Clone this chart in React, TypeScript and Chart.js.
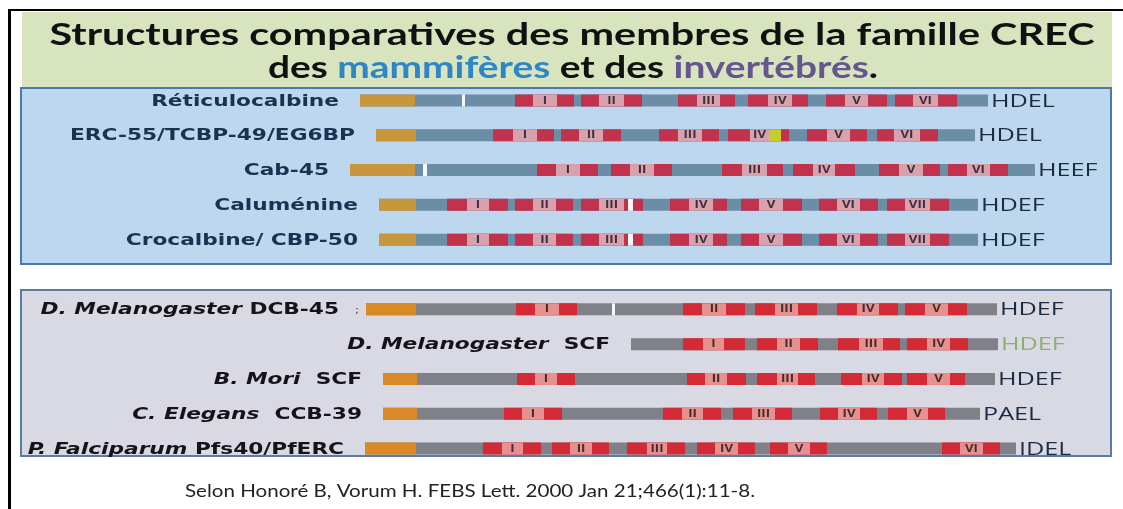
import React, { useEffect, useRef } from "react";
import { Chart, registerables } from "chart.js";

Chart.register(...registerables);

// ---------- DATA ----------
const speciesNames = ["", "", "", "", "", "", "D. Melanogaster", "D. Melanogaster", "B. Mori", "C. Elegans", "P. Falciparum"];
const proteinNames = ["Réticulocalbine", "ERC-55/TCBP-49/EG6BP", "Cab-45", "Caluménine", "Crocalbine/ CBP-50", "", "DCB-45", "SCF", "SCF", "CCB-39", "Pfs40/PfERC"];
const panelOfRow = [0, 0, 0, 0, 0, -1, 1, 1, 1, 1, 1];

// positions along the protein axis
const chainStart = [360, 376, 350, 379, 379, null, 366, 631, 383, 383, 365];
const signalEnd = [415, 416, 415, 416, 416, null, 416, null, 417, 417, 416];
const chainEnd = [988, 975, 1035, 978, 978, null, 997, 998, 995, 980, 1016];
const cTermMotif = ["HDEL", "HDEL", "HEEF", "HDEF", "HDEF", "", "HDEF", "HDEF", "HDEF", "PAEL", "IDEL"];

// EF-hands: [red start, pink start, pink end, red end]
const efHands: number[][][] = [
  [[515, 533, 557, 574], [581, 599, 624, 642], [678, 697, 720, 735], [748, 768, 792, 808], [826, 845, 868, 887], [895, 913, 938, 957]],
  [[493, 513, 537, 554], [561, 579, 603, 621], [659, 678, 702, 719], [728, 750, 769, 789], [807, 827, 850, 867], [877, 894, 920, 938]],
  [[537, 556, 580, 598], [611, 630, 654, 672], [722, 742, 767, 783], [793, 813, 835, 855], [879, 899, 923, 940], [948, 967, 990, 1008]],
  [[447, 467, 489, 508], [515, 533, 556, 573], [581, 599, 624, 643], [670, 689, 713, 727], [741, 759, 783, 802], [819, 837, 860, 878], [887, 905, 930, 949]],
  [[447, 467, 489, 508], [515, 533, 556, 573], [581, 599, 624, 643], [670, 689, 713, 727], [741, 759, 783, 802], [819, 837, 860, 878], [887, 905, 930, 949]],
  [],
  [[516, 535, 559, 577], [683, 702, 726, 745], [755, 775, 798, 817], [837, 857, 879, 898], [905, 925, 948, 967]],
  [[683, 703, 724, 745], [757, 777, 800, 818], [838, 859, 883, 900], [907, 927, 950, 968]],
  [[517, 535, 557, 575], [687, 705, 727, 746], [757, 777, 798, 815], [841, 862, 884, 902], [907, 927, 950, 965]],
  [[504, 522, 544, 562], [663, 682, 703, 721], [733, 752, 775, 792], [820, 838, 860, 877], [888, 907, 928, 945]],
  [[483, 502, 523, 541], [552, 570, 592, 609], [627, 647, 667, 685], [697, 715, 738, 755], [770, 788, 810, 827], [942, 960, 983, 1000]],
];
const romanNumerals = ["I", "II", "III", "IV", "V", "VI", "VII"];

// white breaks in the chain: row, start, end
const breakRows = [0, 2, 3, 4, 6];
const breakStarts = [462, 423, 628, 628, 612];
const breakEnds = [465, 427, 633, 633, 615];

// variant site (yellow) in ERC-55 EF-hand IV
const variantRows = [1];
const variantStarts = [769];
const variantEnds = [781];

const titleLine1 = "Structures comparatives des membres de la famille CREC";
const titleLine2 = [
  { text: "des ", color: "#111111" },
  { text: "mammifères", color: "#2e86c8" },
  { text: " et des ", color: "#111111" },
  { text: "invertébrés", color: "#66568f" },
  { text: ".", color: "#111111" },
];
const citation = "Selon Honoré B, Vorum H. FEBS Lett. 2000 Jan 21;466(1):11-8.";

const categories = proteinNames.map((p, i) => (speciesNames[i] ? speciesNames[i] + " " + p : p) || " ");

// ---------- STYLES ----------
const linkerColors = ["#6c8da6", "#808088"];
const signalColors = ["#c8973c", "#d98a26"];
const redColors = ["#c1324d", "#d42a35"];
const pinkColors = ["#d7a1ae", "#e69090"];
const numeralColors = ["#3e2f3e", "#452c2c"];

function drawText(ctx: CanvasRenderingContext2D, text: string, x: number, y: number, font: string, color: string, align: string, sx: number) {
  ctx.save();
  ctx.font = font;
  ctx.fillStyle = color;
  ctx.textBaseline = "middle";
  ctx.textAlign = "left";
  const w = ctx.measureText(text).width * sx;
  const left = align === "left" ? x : align === "right" ? x - w : x - w / 2;
  ctx.translate(left, y);
  ctx.scale(sx, 1);
  ctx.fillText(text, 0, 0);
  ctx.restore();
  return w;
}
function textWidth(ctx: CanvasRenderingContext2D, text: string, font: string) {
  ctx.save();
  ctx.font = font;
  const w = ctx.measureText(text).width;
  ctx.restore();
  return w;
}

function panel(ctx: CanvasRenderingContext2D, x: number, y: number, w: number, h: number, fill: string, stroke: string) {
  ctx.fillStyle = fill;
  ctx.fillRect(x, y, w, h);
  ctx.strokeStyle = stroke;
  ctx.lineWidth = 2;
  ctx.strokeRect(x, y, w, h);
}

const backdropPlugin = {
  id: "backdrop",
  beforeDraw(chart: any) {
    const ctx = chart.ctx as CanvasRenderingContext2D;
    ctx.save();
    ctx.fillStyle = "#ffffff";
    ctx.fillRect(0, 0, chart.width, chart.height);
    ctx.fillStyle = "#d7e4bd";
    ctx.fillRect(22, 12, 1090, 76);
    panel(ctx, 21, 88, 1090, 176, "#bdd7ee", "#4a79ad");
    panel(ctx, 21, 290, 1090, 166, "#d9d9e4", "#5a7ba6");
    ctx.fillStyle = "#000000";
    ctx.fillRect(8, 9, 1115, 2);
    ctx.fillRect(8, 9, 3, 500);
    ctx.restore();
  },
};

const textPlugin = {
  id: "texts",
  afterDatasetsDraw(chart: any) {
    const ctx = chart.ctx as CanvasRenderingContext2D;
    const xs = chart.scales.x;
    const ys = chart.scales.y;

    // title
    const tFont = "bold 31px Lato";
    const tsx = 1045 / textWidth(ctx, titleLine1, tFont);
    drawText(ctx, titleLine1, 572, 35, tFont, "#111111", "center", tsx);
    let total = 0;
    titleLine2.forEach((p) => (total += textWidth(ctx, p.text, tFont)));
    const tsx2 = 610 / total;
    let cx = 573 - 305;
    titleLine2.forEach((p) => {
      cx += drawText(ctx, p.text, cx, 68, tFont, p.color, "left", tsx2);
    });

    // row labels
    const lFont = "bold 16px 'DejaVu Sans'";
    const liFont = "italic bold 16px 'DejaVu Sans'";
    const lsx = 285 / textWidth(ctx, "ERC-55/TCBP-49/EG6BP", lFont);
    const mFont = "18px 'Open Sans'";
    const nFont = "bold 11px 'Open Sans'";
    categories.forEach((_, i) => {
      if (chainStart[i] == null) return;
      const y = ys.getPixelForValue(i) + 1;
      const p = panelOfRow[i];
      const color = p === 0 ? "#1b3152" : "#141418";
      const right = xs.getPixelForValue(chainStart[i] as number) - (i === 6 ? 27 : 21);
      const sep = i >= 7 && i <= 9 ? "  " : " ";
      const prot = (speciesNames[i] ? sep : "") + proteinNames[i];
      const wp = textWidth(ctx, prot, lFont) * lsx;
      drawText(ctx, prot, right, y, lFont, color, "right", lsx);
      if (speciesNames[i]) drawText(ctx, speciesNames[i], right - wp, y, liFont, color, "right", lsx);
      if (i === 6) drawText(ctx, ";", xs.getPixelForValue(chainStart[i] as number) - 9, y, "9px 'DejaVu Sans'", color, "center", 1);

      // C-terminal motif
      const mColor = i === 7 ? "#8fae72" : "#1c2b44";
      drawText(ctx, cTermMotif[i], xs.getPixelForValue(chainEnd[i] as number) + 3, y, mFont, mColor, "left", 1.4);

      // EF-hand numerals
      efHands[i].forEach((ef, k) => {
        const c = xs.getPixelForValue((ef[1] + ef[2]) / 2);
        drawText(ctx, romanNumerals[k], c, y - 1, nFont, numeralColors[p], "center", 1.2);
      });
    });

    // citation
    const cFont = "18px Lato";
    const csx = 570 / textWidth(ctx, citation, cFont);
    drawText(ctx, citation, 470, 491, cFont, "#222222", "center", csx);
  },
};

function buildDatasets() {
  const chain: any[] = [], signal: any[] = [], red: any[] = [], pink: any[] = [], brk: any[] = [], variant: any[] = [];
  categories.forEach((cat, i) => {
    if (chainStart[i] == null) return;
    chain.push({ x: [chainStart[i], chainEnd[i]], y: cat, row: i });
    if (signalEnd[i] != null) signal.push({ x: [chainStart[i], signalEnd[i]], y: cat, row: i });
    efHands[i].forEach((ef) => {
      red.push({ x: [ef[0], ef[3]], y: cat, row: i });
      pink.push({ x: [ef[1], ef[2]], y: cat, row: i });
    });
  });
  breakRows.forEach((r, k) => brk.push({ x: [breakStarts[k], breakEnds[k]], y: categories[r], row: r }));
  variantRows.forEach((r, k) => variant.push({ x: [variantStarts[k], variantEnds[k]], y: categories[r], row: r }));
  const byPanel = (colors: string[]) => (c: any) => colors[Math.max(0, panelOfRow[c.raw ? c.raw.row : 0])];
  const common = { grouped: false, maxBarThickness: 12, borderWidth: 0, borderSkipped: false };
  return [
    { label: "linker", data: chain, backgroundColor: byPanel(linkerColors), order: 6, ...common },
    { label: "signal", data: signal, backgroundColor: byPanel(signalColors), order: 5, ...common },
    { label: "EF red", data: red, backgroundColor: byPanel(redColors), order: 4, ...common },
    { label: "EF loop", data: pink, backgroundColor: byPanel(pinkColors), order: 3, ...common },
    { label: "break", data: brk, backgroundColor: "#f4f8fc", order: 2, ...common },
    { label: "variant", data: variant, backgroundColor: "#c5cc2c", order: 1, ...common },
  ];
}

export default function App() {
  const ref = useRef<HTMLCanvasElement | null>(null);
  useEffect(() => {
    if (!ref.current) return;
    const chart = new Chart(ref.current, {
      type: "bar",
      data: { labels: categories, datasets: buildDatasets() as any },
      options: {
        indexAxis: "y",
        animation: false,
        responsive: false,
        maintainAspectRatio: false,
        layout: { padding: { top: 83, bottom: 43, left: 0, right: 0 } },
        scales: {
          x: { type: "linear", min: 0, max: 1123, display: false },
          y: { type: "category", display: false, offset: true },
        },
        plugins: { legend: { display: false }, tooltip: { enabled: false } },
      } as any,
      plugins: [backdropPlugin, textPlugin],
    });
    return () => chart.destroy();
  }, []);
  return (
    <div style={{ position: "fixed", left: 0, top: 0, width: 1123, height: 509 }}>
      <canvas ref={ref} width={1123} height={509} style={{ width: 1123, height: 509, display: "block" }} />
    </div>
  );
}
